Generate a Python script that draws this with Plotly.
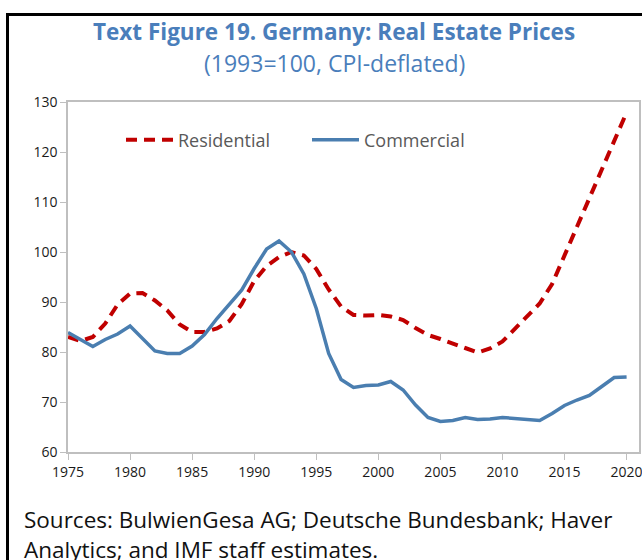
import plotly.graph_objects as go

years = list(range(1975, 2021))
residential = [83.0, 82.2, 83.0, 85.7, 89.5, 91.7, 91.8, 90.3, 88.3, 85.5,
               84.0, 84.0, 84.7, 86.2, 89.6, 94.2, 97.2, 99.0, 100.0, 99.3,
               96.6, 92.5, 89.1, 87.4, 87.3, 87.4, 87.1, 86.4, 84.8, 83.4,
               82.6, 81.8, 80.8, 79.9, 80.7, 82.1, 84.6, 87.0, 89.7, 93.6,
               99.3, 105.1, 111.1, 116.8, 122.1, 127.9]
commercial = [83.9, 82.4, 81.1, 82.5, 83.6, 85.2, 82.6, 80.2, 79.7, 79.7,
              81.2, 83.5, 86.7, 89.6, 92.4, 96.7, 100.6, 102.2, 100.0, 95.6,
              88.7, 79.7, 74.5, 72.9, 73.3, 73.4, 74.1, 72.4, 69.4, 66.9,
              66.1, 66.3, 66.9, 66.5, 66.6, 66.9, 66.7, 66.4, 66.3, 67.7,
              69.3, 70.4, 71.3, 73.1, 74.9, 75.0]
x_ticks = [1975, 1980, 1985, 1990, 1995, 2000, 2005, 2010, 2015, 2020]
y_ticks = [60, 70, 80, 90, 100, 110, 120, 130]

W, H = 642, 560
L, R, T, B = 68, 3, 102, 108
pw, ph = W - L - R, H - T - B

def px(xp):
    return (xp - L) / pw

def py(yp):
    return (H - B - yp) / ph

FONT = "Open Sans"
BLUE = "#4A7EBB"

fig = go.Figure()
fig.add_trace(go.Scatter(x=years, y=residential, mode="lines", name="Residential",
                         line=dict(color="#C00000", width=4, dash="11px,7px")))
fig.add_trace(go.Scatter(x=years, y=commercial, mode="lines", name="Commercial",
                         line=dict(color="#4A7EB0", width=3.5)))

fig.update_layout(
    width=W, height=H,
    margin=dict(l=L, r=R, t=T, b=B, autoexpand=False),
    paper_bgcolor="white", plot_bgcolor="white",
    font=dict(family=FONT, color="#1a1a1a"),
    showlegend=True,
    legend=dict(orientation="h", x=px(121), y=py(140), xanchor="left", yanchor="middle",
                font=dict(size=18, color="#595959", family=FONT),
                itemwidth=47, entrywidth=124, bgcolor="rgba(0,0,0,0)", traceorder="normal"),
    xaxis=dict(range=[1975, 2021], tickvals=x_ticks, ticktext=[str(v) for v in x_ticks],
               showgrid=False, zeroline=False, showline=True, linecolor="#BFBFBF",
               linewidth=1.5, mirror=True, ticks="outside", tickcolor="#BFBFBF",
               ticklen=6, automargin=False, ticklabeloverflow="allow",
               tickfont=dict(size=14, color="#1a1a1a")),
    yaxis=dict(range=[60, 130], tickvals=y_ticks, showgrid=False, zeroline=False,
               showline=True, linecolor="#BFBFBF", linewidth=1.5, mirror=True,
               ticks="outside", tickcolor="#BFBFBF", ticklen=6, automargin=False,
               tickfont=dict(size=14, color="#1a1a1a")),
)

fig.add_annotation(text="<b>Text Figure 19. Germany: Real Estate Prices</b>",
                   xref="paper", yref="paper", x=px(334), y=py(31),
                   xanchor="center", yanchor="middle", showarrow=False,
                   font=dict(size=22.5, color=BLUE, family=FONT))
fig.add_annotation(text="(1993=100, CPI-deflated)",
                   xref="paper", yref="paper", x=px(334), y=py(63),
                   xanchor="center", yanchor="middle", showarrow=False,
                   font=dict(size=23, color=BLUE, family=FONT))
fig.add_annotation(text="Sources: BulwienGesa AG; Deutsche Bundesbank; Haver",
                   xref="paper", yref="paper", x=px(22), y=py(519),
                   xanchor="left", yanchor="middle", showarrow=False,
                   font=dict(size=22.5, color="#111111", family=FONT))
fig.add_annotation(text="Analytics; and IMF staff estimates.",
                   xref="paper", yref="paper", x=px(22), y=py(549),
                   xanchor="left", yanchor="middle", showarrow=False,
                   font=dict(size=22.5, color="#111111", family=FONT))

fig.add_shape(type="rect", xref="paper", yref="paper",
              x0=px(7.5), y0=py(620), x1=px(700), y1=py(14.5),
              line=dict(color="black", width=3), fillcolor="rgba(0,0,0,0)", layer="above")

fig.write_html("out.html", config={"displayModeBar": False},
               post_script="document.body.style.margin='0px';document.body.style.overflow='hidden';")
